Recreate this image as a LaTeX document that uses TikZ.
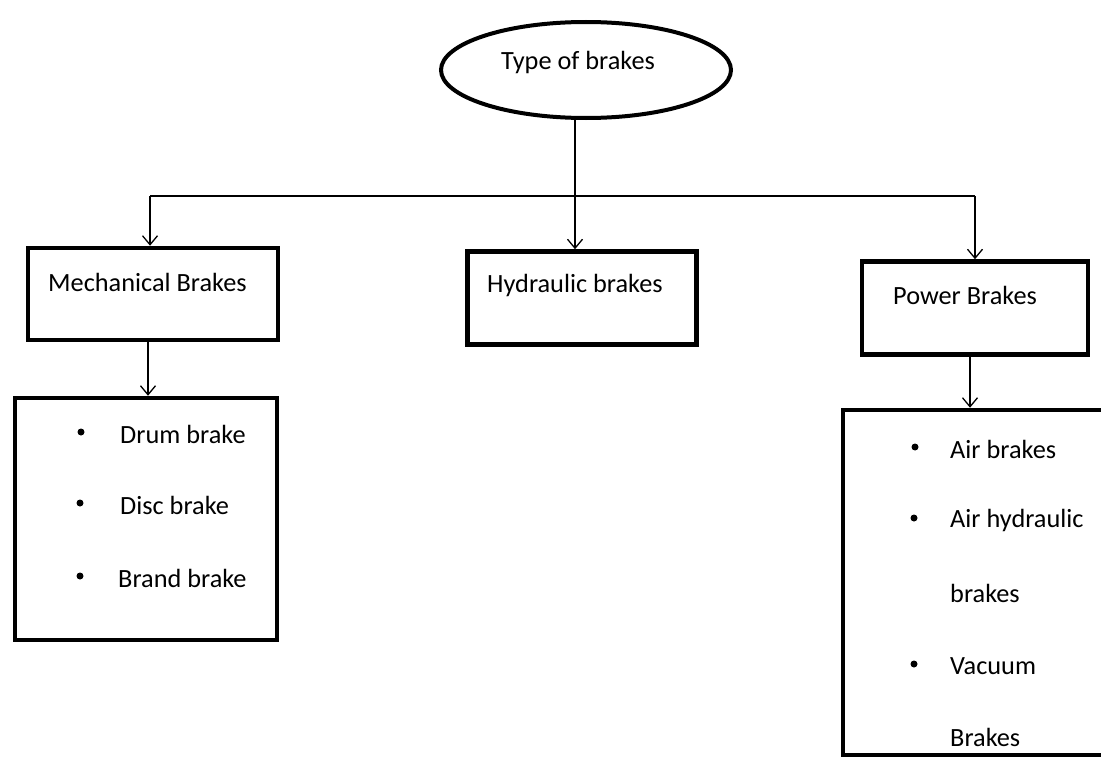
\documentclass[tikz,border=0pt]{standalone}
\usepackage{fontspec}
\setmainfont{Carlito}
\usetikzlibrary{shapes.geometric,arrows.meta}
\begin{document}
\begin{tikzpicture}[x=1pt,y=-1pt,
  box/.style={draw,line width=4.5pt,rectangle,inner sep=0pt},
  txt/.style={font=\fontsize{26.3}{30}\selectfont,inner sep=0pt,anchor=west},
  dot/.style={circle,fill=black,inner sep=0pt,minimum size=7pt},
  conn/.style={line width=1.5pt,-{Straight Barb[length=9pt,width=15pt,line width=1.3pt]}},
  plain/.style={line width=1.5pt}]
\useasboundingbox (0,0) rectangle (1101,760);
\fill[white] (0,0) rectangle (1101,760);
% root
\node[draw,ellipse,line width=4pt,minimum width=290,minimum height=96] (root) at (586,70) {};
\node[txt] (roott) at (501,62) {Type of brakes};
% branch line
\coordinate (jc) at (575,196);
\coordinate (jl) at (150,196);
\coordinate (jr) at (975,196);
\draw[plain] (root.south -| jc) -- (jc);
\draw[plain] (jl) -- (jr);
% boxes
\node[box,minimum width=250,minimum height=92] (mech) at (153,294) {};
\node[txt] (mecht) at (48,282) {Mechanical Brakes};
\node[box,minimum width=229,minimum height=93] (hyd) at (582,298) {};
\node[txt] (hydt) at (487,285) {Hydraulic brakes};
\node[box,minimum width=226,minimum height=93] (pow) at (975,308) {};
\node[txt] (powt) at (893,295) {Power Brakes};
% list boxes
\node[box,minimum width=262,minimum height=242] (mlist) at (146,519) {};
\node[box,minimum width=262,minimum height=345] (plist) at (974,582.5) {};
% list items, left
\node[dot] (b1) at (81,432) {};
\node[txt] (m1) at (120,434) {Drum brake};
\node[dot] (b2) at (80,503) {};
\node[txt] (m2) at (120,505) {Disc brake};
\node[dot] (b3) at (80,576) {};
\node[txt] (m3) at (118,578) {Brand brake};
% list items, right
\node[dot] (p1b) at (915,447) {};
\node[txt] (p1) at (950,449) {Air brakes};
\node[dot] (p2b) at (914,518) {};
\node[txt] (p2) at (950,520) {Air hydraulic};
\node[txt] (p3) at (950,593) {brakes};
\node[dot] (p4b) at (914,664) {};
\node[txt] (p4) at (950,666) {Vacuum};
\node[txt] (p5) at (950,737) {Brakes};
% connectors
\draw[conn] (jl) -- (jl |- mech.north);
\draw[conn] (jc) -- (jc |- hyd.north);
\draw[conn] (jr) -- (jr |- pow.north);
\draw[conn] (mech.south -| 148,0) -- (148,0 |- mlist.north);
\draw[conn] (pow.south -| 970,0) -- (970,0 |- plist.north);
\end{tikzpicture}
\end{document}
